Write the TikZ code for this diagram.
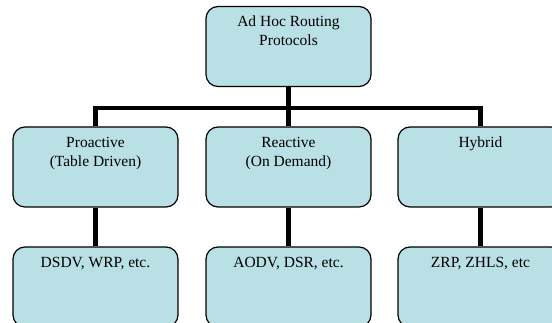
\documentclass[tikz,border=0pt]{standalone}
\usepackage{fontspec}
\setmainfont{Liberation Serif}
\usetikzlibrary{positioning}
\definecolor{boxfill}{RGB}{185,224,228}
\newcommand{\boxlabel}[1]{\parbox[c][66pt][t]{151pt}{\centering\strut #1}}

\begin{document}
\begin{tikzpicture}[x=1pt,y=-1pt,
    box/.style={draw, line width=1.2pt, fill=boxfill, rounded corners=12pt, inner sep=7pt,
      minimum width=165pt, minimum height=80pt, font=\fontsize{15.5}{19}\selectfont},
    bar/.style={line width=4.5pt, line join=miter}]
    \useasboundingbox (0,0) rectangle (552,323);
    \clip (0,0) rectangle (552,323);
    % boxes
    \coordinate (bus) at (288.5,108);
    \node[box] (top) at (288.5,46.5) {\boxlabel{Ad Hoc Routing\\Protocols}};
    \node[box] (pro) at (95.5,167) {\boxlabel{Proactive\\(Table Driven)}};
    \node[box] (rea) at (288.5,167) {\boxlabel{Reactive\\(On Demand)}};
    \node[box] (hyb) at (480.5,167) {\boxlabel{Hybrid}};
    \node[box] (dsdv) at (95.5,287) {\boxlabel{DSDV, WRP, etc.}};
    \node[box] (aodv) at (288.5,287) {\boxlabel{AODV, DSR, etc.}};
    \node[box] (zrp) at (480.5,287) {\boxlabel{ZRP, ZHLS, etc}};
    % tree lines
    \draw[bar] (top.south) -- (rea.north);
    \draw[bar] (pro.north) |- (bus) -| (hyb.north);
    \draw[bar] (pro.south) -- (dsdv.north);
    \draw[bar] (rea.south) -- (aodv.north);
    \draw[bar] (hyb.south) -- (zrp.north);
\end{tikzpicture}
\end{document}
